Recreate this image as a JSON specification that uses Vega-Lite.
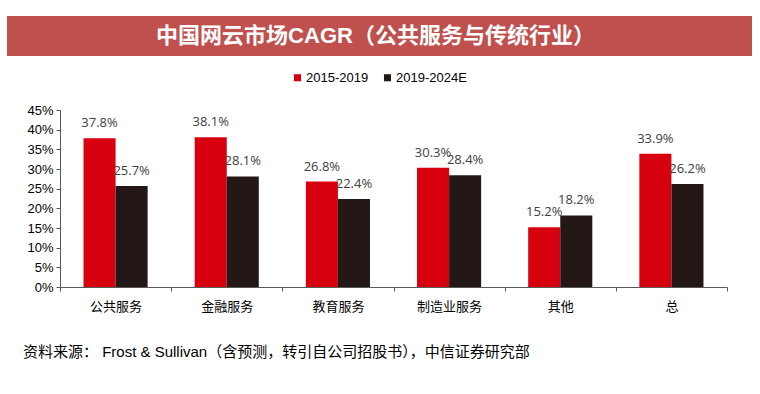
{
  "$schema": "https://vega.github.io/schema/vega-lite/v6.json",
  "padding": {"left": 7, "top": 16, "right": 5, "bottom": 5},
  "background": "white",
  "config": {
    "view": {"stroke": null},
    "font": "Liberation Sans, Noto Sans CJK SC",
    "concat": {"spacing": 15}
  },
  "resolve": {"scale": {"color": "independent"}, "legend": {"color": "independent"}},
  "vconcat": [
    {
      "width": 745,
      "height": 40,
      "view": {"fill": "#C0504D", "stroke": null},
      "data": {"values": [{"t": "中国网云市场CAGR（公共服务与传统行业）"}]},
      "mark": {"type": "text", "color": "white", "fontSize": 22, "fontWeight": "bold", "font": "Liberation Sans, Noto Sans CJK SC", "baseline": "middle", "align": "center", "dx": -4},
      "encoding": {"text": {"field": "t"}}
    },
    {
      "spacing": 0,
      "resolve": {"scale": {"color": "independent"}, "legend": {"color": "independent"}},
      "hconcat": [
        {
          "width": 1,
          "height": 177,
          "data": {"values": []},
          "mark": "point",
          "encoding": {}
        },
        {
          "width": 667,
          "height": 177,
          "data": {"values": [
            {"category": "公共服务", "period": "2015-2019", "value": 0.378},
            {"category": "公共服务", "period": "2019-2024E", "value": 0.257},
            {"category": "金融服务", "period": "2015-2019", "value": 0.381},
            {"category": "金融服务", "period": "2019-2024E", "value": 0.281},
            {"category": "教育服务", "period": "2015-2019", "value": 0.268},
            {"category": "教育服务", "period": "2019-2024E", "value": 0.224},
            {"category": "制造业服务", "period": "2015-2019", "value": 0.303},
            {"category": "制造业服务", "period": "2019-2024E", "value": 0.284},
            {"category": "其他", "period": "2015-2019", "value": 0.152},
            {"category": "其他", "period": "2019-2024E", "value": 0.182},
            {"category": "总", "period": "2015-2019", "value": 0.339},
            {"category": "总", "period": "2019-2024E", "value": 0.262}
          ]},
          "title": {
            "text": "资料来源： Frost & Sullivan（含预测，转引自公司招股书），中信证券研究部",
            "orient": "bottom", "anchor": "start", "frame": "bounds",
            "fontSize": 15, "fontWeight": "normal", "color": "black",
            "font": "Liberation Sans, Noto Sans CJK SC", "offset": 32, "dx": 15
          },
          "encoding": {
            "x": {
              "field": "category", "type": "nominal", "sort": null,
              "scale": {"paddingInner": 0, "paddingOuter": 0},
              "axis": {"title": null, "labelAngle": 0, "labelFontSize": 13, "labelColor": "black", "labelPadding": 9, "tickSize": 4, "tickBand": "extent", "domainColor": "#595959", "tickColor": "#595959"}
            },
            "xOffset": {"field": "period", "type": "nominal", "scale": {"paddingInner": 0, "paddingOuter": 0.734}},
            "y": {
              "field": "value", "type": "quantitative",
              "scale": {"domain": [0, 0.45], "nice": false},
              "axis": {"title": null, "values": [0, 0.05, 0.1, 0.15, 0.2, 0.25, 0.3, 0.35, 0.4, 0.45], "format": ".0%", "grid": false, "labelFontSize": 13, "labelColor": "black", "tickSize": 4, "minExtent": 52, "domainColor": "#595959", "tickColor": "#595959", "labelPadding": 3}
            }
          },
          "layer": [
            {
              "mark": {"type": "bar"},
              "encoding": {
                "color": {
                  "field": "period", "type": "nominal",
                  "scale": {"domain": ["2015-2019", "2019-2024E"], "range": ["#D7000F", "#231815"]},
                  "legend": {"title": null, "orient": "none", "direction": "horizontal", "legendX": 231, "legendY": -39, "symbolType": "square", "symbolSize": 50, "symbolStrokeWidth": 0, "labelFontSize": 13, "labelColor": "black", "labelOffset": 2, "columnPadding": 12}
                }
              }
            },
            {
              "mark": {"type": "text", "baseline": "middle", "dy": -15, "fontSize": 13, "color": "#404040", "font": "Open Sans"},
              "encoding": {"text": {"field": "value", "type": "quantitative", "format": ".1%"}}
            }
          ]
        }
      ]
    }
  ]
}
